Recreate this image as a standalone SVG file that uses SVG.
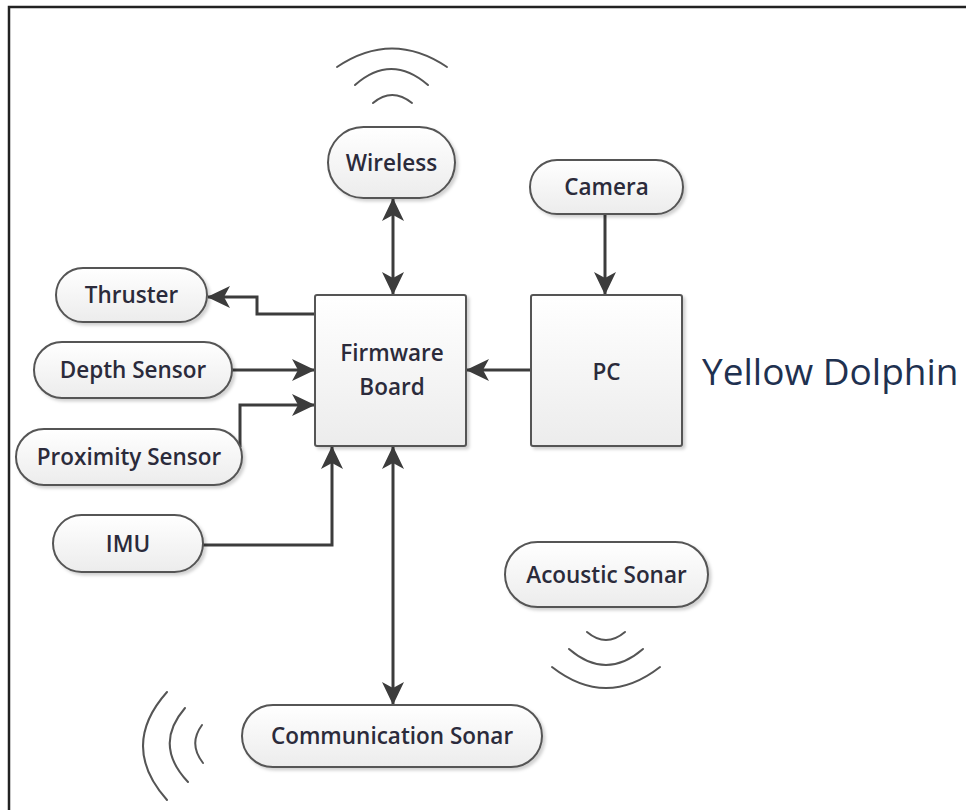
<svg xmlns="http://www.w3.org/2000/svg" width="966" height="810" viewBox="0 0 966 810">
  <defs>
    <linearGradient id="fillGrad" x1="0" y1="0" x2="0" y2="1">
      <stop offset="0" stop-color="#ffffff"/>
      <stop offset="1" stop-color="#ececec"/>
    </linearGradient>
    <filter id="shadow" x="-10%" y="-10%" width="125%" height="130%">
      <feDropShadow dx="2.5" dy="2.5" stdDeviation="1.5" flood-color="#000" flood-opacity="0.18"/>
    </filter>
    <marker id="arrow" viewBox="-23 -12 25 24" refX="0" refY="0" markerWidth="25" markerHeight="24" markerUnits="userSpaceOnUse" orient="auto-start-reverse">
      <path d="M1,0 L-22,-11 L-16,0 L-22,11 Z" fill="#3c3c3c"/>
    </marker>
  </defs>
  <style>
    .node { fill: url(#fillGrad); stroke: #555555; stroke-width: 2; filter: url(#shadow); }
    .label { font-family: "Open Sans", "DejaVu Sans", sans-serif; font-size: 22.5px; font-weight: 600; fill: #2b2b3b; text-anchor: middle; }
    .wire { fill: none; stroke: #3c3c3c; stroke-width: 3; }
    .wave { fill: none; stroke: #555555; stroke-width: 2; stroke-linecap: round; }
    .title { font-family: "Open Sans", "DejaVu Sans", sans-serif; font-size: 37px; fill: #1f3150; }
  </style>

  <rect width="966" height="810" fill="#ffffff"/>
  <!-- outer frame -->
  <path d="M9,812 L9,7 L968,7" fill="none" stroke="#222222" stroke-width="2.5"/>

  <!-- radio / sonar waves -->
  <g id="waves">
    <path class="wave" d="M337,67 Q392,30 447,67"/>
    <path class="wave" d="M355,85 Q391,53 428,85"/>
    <path class="wave" d="M373,103 Q392,87 412,103"/>
    <path class="wave" d="M587,632 Q606,648 625,632"/>
    <path class="wave" d="M569,649 Q606,681 643,649"/>
    <path class="wave" d="M552,667 Q606,709 660,667"/>
    <path class="wave" d="M167,692 Q119,746 167,800"/>
    <path class="wave" d="M185,708 Q153,745 188,782"/>
    <path class="wave" d="M202,725 Q188,744 203,763"/>
  </g>

  <!-- connectors -->
  <g id="connectors">
    <path class="wire" d="M393,199 L393,294" marker-start="url(#arrow)" marker-end="url(#arrow)"/>
    <path class="wire" d="M605,214 L605,294" marker-end="url(#arrow)"/>
    <path class="wire" d="M531,370 L467,370" marker-end="url(#arrow)"/>
    <path class="wire" d="M315,314 L257,314 L257,297 L208,297" marker-end="url(#arrow)"/>
    <path class="wire" d="M232,370 L314,370" marker-end="url(#arrow)"/>
    <path class="wire" d="M240,447 L240,405 L314,405" marker-end="url(#arrow)"/>
    <path class="wire" d="M203,545 L332,545 L332,447" marker-end="url(#arrow)"/>
    <path class="wire" d="M393,447 L393,704" marker-start="url(#arrow)" marker-end="url(#arrow)"/>
  </g>

  <!-- nodes -->
  <g id="wireless">
    <rect class="node" x="328" y="127" width="127" height="71" rx="35.5"/>
    <text class="label" x="391.5" y="170.5">Wireless</text>
  </g>
  <g id="camera">
    <rect class="node" x="530" y="160" width="153" height="54" rx="27"/>
    <text class="label" x="606.5" y="195">Camera</text>
  </g>
  <g id="thruster">
    <rect class="node" x="56" y="268" width="151" height="54" rx="27"/>
    <text class="label" x="131.5" y="303">Thruster</text>
  </g>
  <g id="depth-sensor">
    <rect class="node" x="34" y="342" width="198" height="56" rx="28"/>
    <text class="label" x="133" y="378">Depth Sensor</text>
  </g>
  <g id="proximity-sensor">
    <rect class="node" x="16" y="429" width="226" height="56" rx="28"/>
    <text class="label" x="129" y="465">Proximity Sensor</text>
  </g>
  <g id="imu">
    <rect class="node" x="53" y="515" width="150" height="57" rx="28.5"/>
    <text class="label" x="128" y="552">IMU</text>
  </g>
  <g id="firmware-board">
    <rect class="node" x="315" y="295" width="151" height="151" rx="2"/>
    <text class="label" x="392" y="361">Firmware</text>
    <text class="label" x="392" y="395">Board</text>
  </g>
  <g id="pc">
    <rect class="node" x="531" y="295" width="151" height="151" rx="2"/>
    <text class="label" x="606.5" y="380">PC</text>
  </g>
  <g id="acoustic-sonar">
    <rect class="node" x="505" y="542" width="203" height="65" rx="32.5"/>
    <text class="label" x="606.5" y="583">Acoustic Sonar</text>
  </g>
  <g id="communication-sonar">
    <rect class="node" x="242" y="705" width="300" height="62" rx="31"/>
    <text class="label" x="392" y="744">Communication Sonar</text>
  </g>

  <text class="title" x="702" y="385">Yellow Dolphin</text>
</svg>
